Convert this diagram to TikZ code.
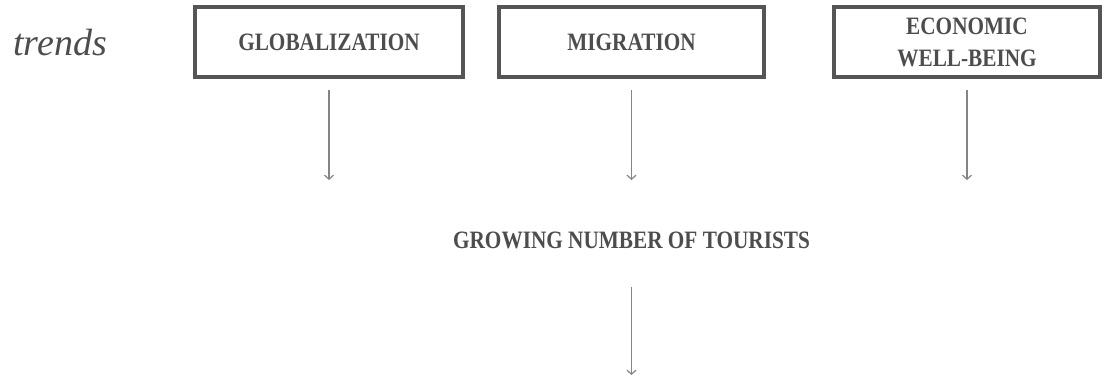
\documentclass[tikz,border=0pt]{standalone}
\usepackage{fontspec}
\setmainfont{Liberation Serif}
\newfontfamily\narrowserif[FakeStretch=0.85]{Liberation Serif}
\usetikzlibrary{positioning,arrows.meta}
\definecolor{boxgray}{HTML}{555555}
\definecolor{textgray}{HTML}{4D4D4D}
\definecolor{arrowgray}{HTML}{858585}
\tikzstyle{trend} = [draw=boxgray, line width=4pt, rectangle, minimum height=70pt, minimum width=266pt, inner sep=0pt, align=center, text=textgray, font=\narrowserif\bfseries\fontsize{25}{32}\selectfont]
\tikzstyle{result} = [inner sep=0pt, text=textgray, font=\narrowserif\bfseries\fontsize{25}{30}\selectfont]
\tikzstyle{tag} = [inner sep=0pt, anchor=base west, text=textgray, font=\itshape\fontsize{38}{40}\selectfont]
\tikzstyle{to} = [-{Straight Barb[length=4pt,width=9pt]}, draw=arrowgray, line width=1.2pt]

\begin{document}
\begin{tikzpicture}[x=1pt, y=1pt, node distance=2cm]
	\useasboundingbox (0,0) rectangle (1102,380);
	\node (trends) [tag] at (13,324) {trends};
	\node (glob) [trend, minimum width=268pt] at (329,338) {GLOBALIZATION};
	\node (migr) [trend, right of=glob, node distance=302.5pt, minimum width=265pt] {MIGRATION};
	\node (econ) [trend, right of=migr, node distance=335.5pt] {ECONOMIC\\WELL-BEING};
	\node (grow) [result] at (631.5,140) {GROWING NUMBER OF TOURISTS};
	\coordinate (globend) at (329,200);
	\coordinate (migrend) at (631.5,200);
	\coordinate (econend) at (967,200);
	\coordinate (growend) at (631.5,5);
	\draw [to, shorten <=11pt] (glob.south) -- (globend);
	\draw [to, shorten <=11pt] (migr.south) -- (migrend);
	\draw [to, shorten <=11pt] (econ.south) -- (econend);
	\draw [to, shorten <=38pt] (grow.south) -- (growend);
\end{tikzpicture}
\end{document}
